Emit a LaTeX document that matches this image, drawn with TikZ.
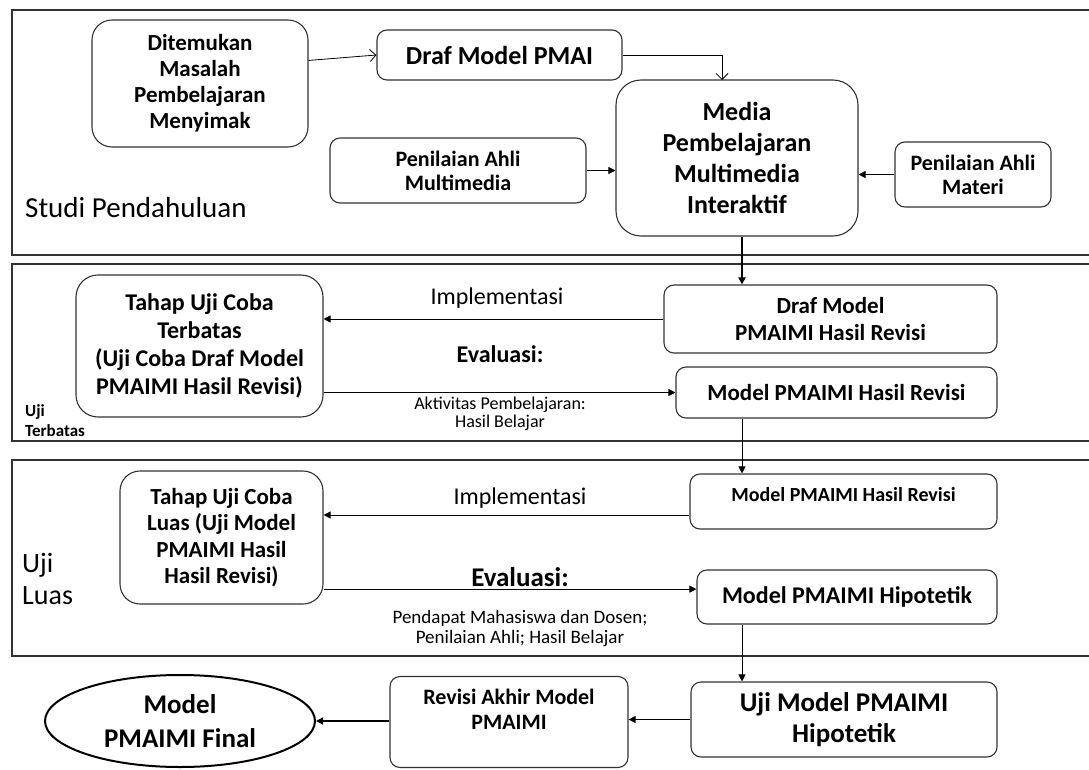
\documentclass[tikz,border=0pt]{standalone}
\usepackage{fontspec}
\setmainfont{Carlito}
\usetikzlibrary{arrows.meta,shapes.geometric}

\newcommand{\fsz}[2]{\fontsize{#1}{#2}\selectfont}

\begin{document}
\begin{tikzpicture}[x=1pt,y=-1pt,
    box/.style={draw=black!80, line width=1.1pt, rounded corners=10pt, align=center, inner sep=0pt, font=\bfseries},
    frame/.style={draw=black!80, line width=1.4pt},
    lbl/.style={align=center, inner sep=0pt},
    openarr/.style={-{Straight Barb[length=6pt,width=12pt]}, line width=0.8pt},
    arr/.style={-{Triangle[length=7pt,width=7pt]}, line width=0.9pt}]

  \useasboundingbox (0,0) rectangle (1089,770);
  \clip (0,0) rectangle (1089,770);

  \draw[frame] (12,10) rectangle (1100,255);
  \draw[frame] (12,264) rectangle (1100,441);
  \draw[frame] (12,460) rectangle (1100,656);

  \begin{scope}[every node/.style={box}]
    \node[minimum width=216pt, minimum height=127pt, rounded corners=20pt, font=\bfseries\fsz{23}{26}] (1) at (200,83.5) {Ditemukan\\Masalah\\Pembelajaran\\Menyimak};
    \node[minimum width=245pt, minimum height=50pt, font=\bfseries\fsz{26}{30}] (2) at (499.5,55) {Draf Model PMAI};
    \node[minimum width=242pt, minimum height=156pt, rounded corners=25pt, font=\bfseries\fsz{26}{31}] (3) at (737,158) {Media\\Pembelajaran\\Multimedia\\Interaktif};
    \node[minimum width=256pt, minimum height=65pt, font=\bfseries\fsz{22}{24}] (4) at (458,170.5) {Penilaian Ahli\\Multimedia};
    \node[minimum width=156pt, minimum height=65pt, font=\bfseries\fsz{22}{24}] (5) at (973,174.5) {Penilaian Ahli\\Materi};

    \node[minimum width=247pt, minimum height=142pt, rounded corners=22pt, font=\bfseries\fsz{24}{28}] (6) at (199.5,346) {Tahap Uji Coba\\Terbatas\\(Uji Coba Draf Model\\PMAIMI Hasil Revisi)};
    \node[minimum width=333pt, minimum height=68pt, font=\bfseries\fsz{23}{27}] (7) at (830.5,319) {Draf Model\\PMAIMI Hasil Revisi};
    \node[minimum width=321pt, minimum height=51pt, font=\bfseries\fsz{23}{27}] (8) at (836.5,392.5) {Model PMAIMI Hasil Revisi};

    \node[minimum width=203pt, minimum height=133pt, rounded corners=20pt, font=\bfseries\fsz{23}{26.5}] (9) at (221.5,537.5) {Tahap Uji Coba\\Luas (Uji Model\\PMAIMI Hasil\\Hasil Revisi)};
    \node[minimum width=307pt, minimum height=55pt, font=\bfseries\fsz{20}{24}] (10) at (843.5,501.5) {Model PMAIMI Hasil Revisi\\[-9pt]\mbox{}};
    \node[minimum width=300pt, minimum height=54pt, font=\bfseries\fsz{24}{28}] (11) at (847,597) {Model PMAIMI Hipotetik};

    \node[minimum width=306pt, minimum height=75pt, font=\bfseries\fsz{27}{31}] (12) at (844,719.5) {Uji Model PMAIMI\\Hipotetik};
    \node[minimum width=238pt, minimum height=91pt, font=\bfseries\fsz{22}{25}] (13) at (509,722) {Revisi Akhir Model\\PMAIMI\\\mbox{}};
    \node[ellipse, line width=2pt, draw=black, minimum width=270pt, minimum height=92pt, font=\bfseries\fsz{27}{34}] (14) at (180,721) {Model\\PMAIMI Final};
  \end{scope}

  \begin{scope}[every node/.style={lbl}]
    \node[anchor=west, font=\fsz{29}{33}] (studi) at (25,208) {Studi Pendahuluan};
    \node[anchor=west, align=left, font=\bfseries\fsz{17}{20}] (terbatas) at (25,421) {Uji\\Terbatas};
    \node[anchor=west, align=left, font=\fsz{28}{32}] (luas) at (22,579) {Uji\\Luas};

    \node[font=\fsz{24}{28}] (imp1) at (497,298) {Implementasi};
    \node[font=\bfseries\fsz{24}{28}] (eva1) at (500,354) {Evaluasi:};
    \node[font=\fsz{18}{18}] (akt1) at (500,414) {Aktivitas Pembelajaran:\\Hasil Belajar};

    \node[font=\fsz{24}{28}] (imp2) at (520,498) {Implementasi};
    \node[font=\bfseries\fsz{27}{30}] (eva2) at (520,577) {Evaluasi:};
    \node[font=\fsz{19}{20}] (pen2) at (520,629) {Pendapat Mahasiswa dan Dosen;\\Penilaian Ahli; Hasil Belajar};
  \end{scope}

  \coordinate (c1) at (722,80);
  \coordinate (c2) at (742,0);

  \begin{scope}[every edge/.style={draw, arr}]
    \path (1.12) edge[openarr] (2.west);
    \draw[openarr] (2.east) -| (c1);
    \path (4.east) edge (4.east -| 3.west);
    \path (5.west) edge (5.west -| 3.east);
    \path (3.south -| c2) edge[line width=2.6pt] (7.north -| c2);

    \path (7.west) edge (7.west -| 6.east);
    \path (6.east |- 8.west) edge (8.west);
    \path (8.south -| c2) edge (10.north -| c2);

    \path (10.185) edge (10.185 -| 9.east);
    \path (9.east |- 11.177) edge (11.177);
    \path (11.south -| c2) edge (12.north -| c2);

    \path (12.west) edge (12.west -| 13.east);
    \path (13.west |- 14.east) edge[line width=1.4pt] (14.east);
  \end{scope}

\end{tikzpicture}
\end{document}
